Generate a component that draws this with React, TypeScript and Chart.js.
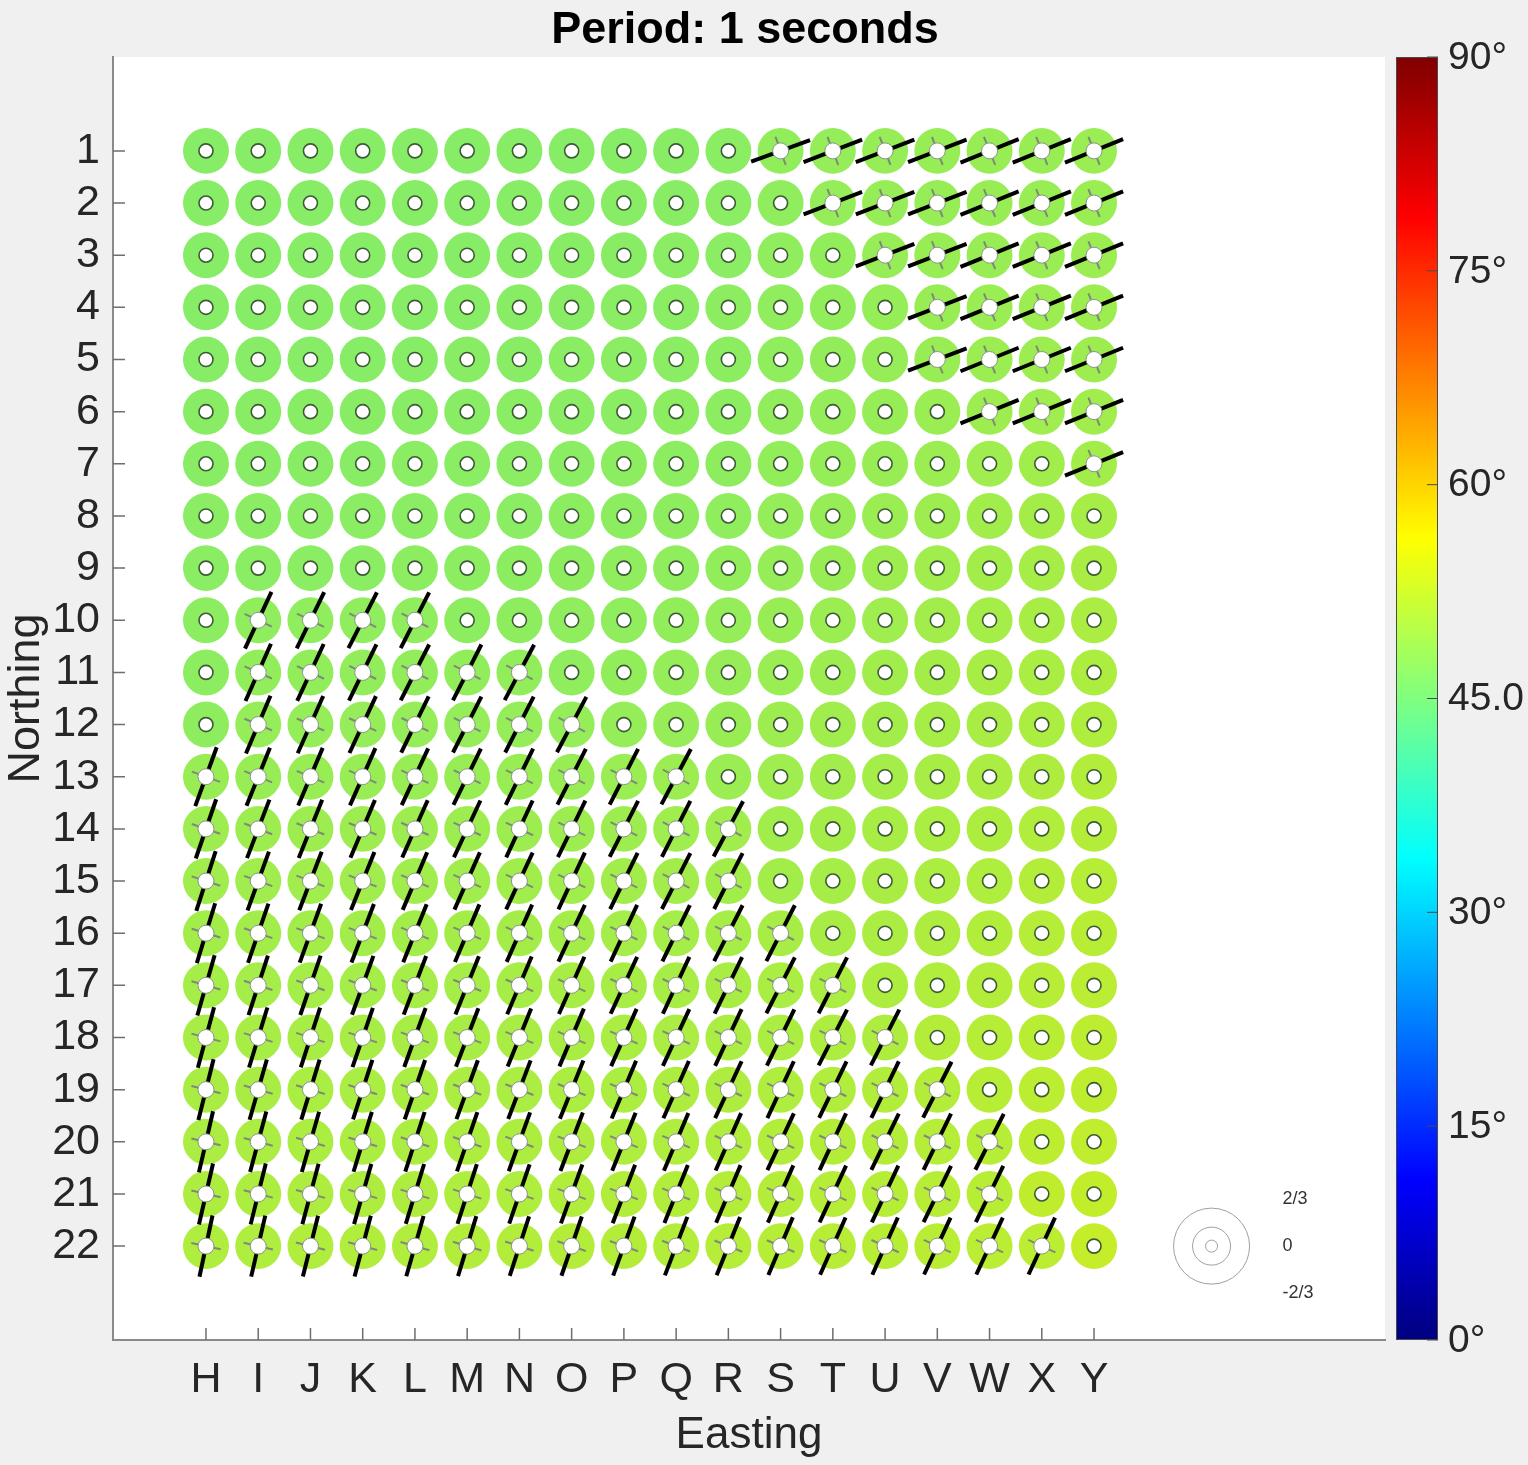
import { useEffect, useRef } from "react";
import { Chart, registerables } from "chart.js";

Chart.register(...registerables);

const titleText = "Period: 1 seconds";
const eastings = ["H", "I", "J", "K", "L", "M", "N", "O", "P", "Q", "R", "S", "T", "U", "V", "W", "X", "Y"];
const northings = ["1", "2", "3", "4", "5", "6", "7", "8", "9", "10", "11", "12", "13", "14", "15", "16", "17", "18", "19", "20", "21", "22"];
const colorbarTicks = [0, 15, 30, 45, 60, 75, 90];
const colorbarLabels = ["0°", "15°", "30°", "45.0", "60°", "75°", "90°"];
const legendLabels = ["2/3", "0", "-2/3"];
const xTitle = "Easting";
const yTitle = "Northing";

// colour value (degrees) per cell, rows 1..22, columns H..Y
const values: number[][] = [
  [46.6, 46.6, 46.6, 46.6, 46.6, 46.6, 46.6, 46.6, 46.6, 46.7, 46.8, 47.6, 47.8, 48.0, 48.1, 48.2, 48.3, 48.4],
  [46.6, 46.6, 46.6, 46.6, 46.6, 46.6, 46.6, 46.6, 46.7, 46.7, 46.8, 47.4, 47.8, 48.0, 48.1, 48.2, 48.3, 48.4],
  [46.6, 46.6, 46.6, 46.6, 46.6, 46.6, 46.6, 46.7, 46.7, 46.8, 46.9, 47.3, 47.6, 48.0, 48.2, 48.3, 48.4, 48.5],
  [46.6, 46.6, 46.6, 46.6, 46.6, 46.6, 46.7, 46.7, 46.8, 46.8, 47.0, 47.3, 47.6, 47.9, 48.2, 48.4, 48.5, 48.6],
  [46.6, 46.6, 46.6, 46.6, 46.6, 46.7, 46.7, 46.8, 46.8, 46.9, 47.0, 47.4, 47.7, 48.0, 48.3, 48.5, 48.6, 48.7],
  [46.7, 46.7, 46.7, 46.7, 46.7, 46.7, 46.8, 46.8, 46.9, 47.0, 47.1, 47.5, 47.8, 48.1, 48.4, 48.6, 48.8, 48.9],
  [46.7, 46.7, 46.7, 46.7, 46.8, 46.8, 46.8, 46.9, 47.0, 47.1, 47.2, 47.6, 47.9, 48.2, 48.5, 48.8, 49.0, 49.2],
  [46.8, 46.8, 46.8, 46.8, 46.8, 46.9, 46.9, 47.0, 47.1, 47.2, 47.4, 47.8, 48.1, 48.4, 48.7, 49.0, 49.3, 49.5],
  [46.9, 46.9, 46.9, 46.9, 47.0, 47.0, 47.1, 47.2, 47.3, 47.4, 47.6, 48.0, 48.3, 48.6, 48.9, 49.2, 49.5, 49.8],
  [47.0, 47.3, 47.3, 47.3, 47.3, 47.1, 47.2, 47.3, 47.4, 47.6, 47.8, 48.2, 48.5, 48.8, 49.1, 49.4, 49.7, 50.0],
  [47.1, 47.6, 47.6, 47.6, 47.6, 47.6, 47.6, 47.4, 47.6, 47.8, 48.0, 48.4, 48.7, 49.0, 49.3, 49.6, 49.9, 50.2],
  [47.2, 47.8, 47.8, 47.8, 47.8, 47.8, 47.8, 47.8, 47.8, 48.0, 48.2, 48.6, 48.9, 49.2, 49.5, 49.8, 50.1, 50.4],
  [48.3, 48.3, 48.3, 48.3, 48.3, 48.3, 48.3, 48.3, 48.4, 48.5, 48.4, 48.8, 49.1, 49.4, 49.7, 50.0, 50.3, 50.6],
  [48.6, 48.6, 48.6, 48.6, 48.6, 48.6, 48.6, 48.7, 48.7, 48.8, 48.9, 49.0, 49.3, 49.6, 49.9, 50.2, 50.5, 50.8],
  [48.9, 48.9, 48.9, 48.9, 48.9, 48.9, 49.0, 49.0, 49.1, 49.1, 49.2, 49.2, 49.5, 49.8, 50.1, 50.4, 50.7, 51.0],
  [49.2, 49.2, 49.2, 49.2, 49.2, 49.3, 49.3, 49.3, 49.4, 49.4, 49.5, 49.6, 49.7, 50.0, 50.3, 50.6, 50.9, 51.2],
  [49.4, 49.4, 49.4, 49.4, 49.5, 49.5, 49.5, 49.6, 49.6, 49.7, 49.8, 49.9, 50.0, 50.2, 50.5, 50.8, 51.1, 51.4],
  [49.6, 49.6, 49.6, 49.7, 49.7, 49.7, 49.8, 49.8, 49.9, 50.0, 50.0, 50.1, 50.2, 50.3, 50.7, 51.0, 51.3, 51.6],
  [49.8, 49.8, 49.9, 49.9, 49.9, 50.0, 50.0, 50.1, 50.1, 50.2, 50.3, 50.4, 50.5, 50.6, 50.7, 51.2, 51.5, 51.8],
  [50.0, 50.0, 50.1, 50.1, 50.1, 50.2, 50.2, 50.3, 50.4, 50.4, 50.5, 50.6, 50.7, 50.8, 50.9, 51.0, 51.7, 52.0],
  [50.2, 50.2, 50.3, 50.3, 50.3, 50.4, 50.4, 50.5, 50.6, 50.6, 50.7, 50.8, 50.9, 51.0, 51.1, 51.2, 51.9, 52.2],
  [50.4, 50.4, 50.5, 50.5, 50.5, 50.6, 50.6, 50.7, 50.8, 50.8, 50.9, 51.0, 51.1, 51.2, 51.3, 51.4, 51.5, 52.4],
];

const N = null;
// tick direction (degrees from horizontal, counter-clockwise); null = no tick
const tickAngles: (number | null)[][] = [
  [N, N, N, N, N, N, N, N, N, N, N, 20, 21, 21, 21, 22, 22, 22],
  [N, N, N, N, N, N, N, N, N, N, N, N, 21, 21, 21, 22, 22, 22],
  [N, N, N, N, N, N, N, N, N, N, N, N, N, 21, 21, 22, 22, 22],
  [N, N, N, N, N, N, N, N, N, N, N, N, N, N, 21, 22, 22, 22],
  [N, N, N, N, N, N, N, N, N, N, N, N, N, N, 21, 22, 22, 22],
  [N, N, N, N, N, N, N, N, N, N, N, N, N, N, N, 22, 22, 22],
  [N, N, N, N, N, N, N, N, N, N, N, N, N, N, N, N, N, 22],
  [N, N, N, N, N, N, N, N, N, N, N, N, N, N, N, N, N, N],
  [N, N, N, N, N, N, N, N, N, N, N, N, N, N, N, N, N, N],
  [N, 65, 64, 63, 63, N, N, N, N, N, N, N, N, N, N, N, N, N],
  [N, 66, 65, 64, 63, 63, 62, N, N, N, N, N, N, N, N, N, N, N],
  [N, 67, 66, 65, 64, 63, 63, 62, N, N, N, N, N, N, N, N, N, N],
  [70, 68, 67, 66, 65, 64, 64, 63, 63, 62, N, N, N, N, N, N, N, N],
  [71, 69, 68, 67, 66, 65, 65, 64, 63, 63, 62, N, N, N, N, N, N, N],
  [72, 70, 69, 68, 67, 66, 65, 65, 64, 63, 63, N, N, N, N, N, N, N],
  [73, 71, 70, 69, 68, 67, 66, 65, 65, 64, 63, 63, N, N, N, N, N, N],
  [74, 72, 71, 70, 69, 68, 67, 66, 65, 65, 64, 63, 63, N, N, N, N, N],
  [75, 73, 72, 71, 70, 69, 68, 67, 66, 65, 65, 64, 63, 63, N, N, N, N],
  [76, 74, 73, 72, 71, 70, 69, 68, 67, 66, 65, 65, 64, 64, 63, N, N, N],
  [77, 75, 74, 73, 72, 71, 70, 69, 68, 67, 66, 65, 65, 64, 64, 63, N, N],
  [77, 76, 75, 74, 73, 72, 71, 70, 69, 68, 67, 66, 65, 65, 64, 64, N, N],
  [78, 77, 76, 75, 74, 73, 72, 71, 70, 69, 68, 67, 66, 66, 65, 65, 65, N],
];

const LEGEND_X = 20.25;
const LEGEND_Y = 22;

// style constants (data units / px)
const DISK_R = 0.44;
const TICK_HALF = 0.6;
const FONT = "'Liberation Sans', Arial, Helvetica, sans-serif";

function jet(t: number): [number, number, number] {
  const c = (x: number) => Math.max(0, Math.min(1, x));
  return [
    c(Math.min(4 * t - 1.5, -4 * t + 4.5)),
    c(Math.min(4 * t - 0.5, -4 * t + 3.5)),
    c(Math.min(4 * t + 0.5, -4 * t + 2.5)),
  ];
}
function jetCss(t: number, k = 1) {
  const [r, g, b] = jet(t);
  return `rgb(${Math.round(r * 255 * k)},${Math.round(g * 255 * k)},${Math.round(b * 255 * k)})`;
}

const glyphPlugin = {
  id: "glyphs",
  beforeDraw(chart: any) {
    const { ctx, chartArea: a, width, height } = chart;
    ctx.save();
    ctx.fillStyle = "#f0f0f0";
    ctx.fillRect(0, 0, width, height);
    ctx.fillStyle = "#ffffff";
    ctx.fillRect(a.left, a.top, a.right - a.left, a.bottom - a.top);
    ctx.restore();
  },
  afterDatasetsDraw(chart: any) {
    const { ctx } = chart;
    const xs = chart.scales.x;
    const meta = chart.getDatasetMeta(0);
    const raw = chart.data.datasets[0].data as any[];
    const unit = Math.abs(xs.getPixelForValue(1) - xs.getPixelForValue(0));
    const rDisk = DISK_R * unit;
    const half = TICK_HALF * unit;
    ctx.save();
    meta.data.forEach((el: any, i: number) => {
      const d = raw[i];
      ctx.beginPath();
      ctx.arc(el.x, el.y, rDisk, 0, Math.PI * 2);
      ctx.fillStyle = jetCss(d.v / 90, 0.93);
      ctx.fill();
    });
    meta.data.forEach((el: any, i: number) => {
      const d = raw[i];
      const cx = el.x, cy = el.y;
      if (d.a !== null) {
        const ang = (d.a * Math.PI) / 180;
        const ux = Math.cos(ang), uy = -Math.sin(ang);
        const px = -uy, py = ux;
        ctx.strokeStyle = "#7d8a78";
        ctx.lineWidth = 2;
        ctx.beginPath();
        ctx.moveTo(cx - px * 15, cy - py * 15);
        ctx.lineTo(cx + px * 15, cy + py * 15);
        ctx.moveTo(cx - ux * 15, cy - uy * 15);
        ctx.lineTo(cx + ux * 15, cy + uy * 15);
        ctx.stroke();
        ctx.strokeStyle = "#000000";
        ctx.lineWidth = 4;
        ctx.lineCap = "butt";
        ctx.beginPath();
        ctx.moveTo(cx - ux * half, cy - uy * half);
        ctx.lineTo(cx + ux * half, cy + uy * half);
        ctx.stroke();
        ctx.beginPath();
        ctx.arc(cx, cy, 8, 0, Math.PI * 2);
        ctx.fillStyle = "#ffffff";
        ctx.fill();
        ctx.strokeStyle = "#8a9488";
        ctx.lineWidth = 1;
        ctx.stroke();
      } else {
        ctx.beginPath();
        ctx.arc(cx, cy, 7, 0, Math.PI * 2);
        ctx.fillStyle = "#ffffff";
        ctx.fill();
        ctx.strokeStyle = "#3d5a35";
        ctx.lineWidth = 1.6;
        ctx.stroke();
      }
    });
    ctx.restore();
  },
  afterDraw(chart: any) {
    const { ctx, chartArea: a } = chart;
    const xs = chart.scales.x;
    const ys = chart.scales.y;
    ctx.save();
    ctx.strokeStyle = "#6e6e6e";
    ctx.lineWidth = 1.5;
    ctx.beginPath();
    ys.ticks.forEach((t: any) => {
      const y = ys.getPixelForValue(t.value);
      ctx.moveTo(a.left, y);
      ctx.lineTo(a.left + 12, y);
    });
    xs.ticks.forEach((t: any) => {
      const x = xs.getPixelForValue(t.value);
      ctx.moveTo(x, a.bottom);
      ctx.lineTo(x, a.bottom - 12);
    });
    ctx.stroke();

    ctx.fillStyle = "#000000";
    ctx.font = `bold 45px ${FONT}`;
    ctx.textAlign = "center";
    ctx.textBaseline = "middle";
    ctx.fillText(titleText, (a.left + a.right) / 2 - 4, 31);

    const lx = xs.getPixelForValue(LEGEND_X);
    const ly = ys.getPixelForValue(LEGEND_Y);
    ctx.strokeStyle = "#a0a0a0";
    ctx.lineWidth = 1;
    [38, 19, 6].forEach((r) => {
      ctx.beginPath();
      ctx.arc(lx, ly, r, 0, Math.PI * 2);
      ctx.stroke();
    });
    ctx.fillStyle = "#333333";
    ctx.font = `18px ${FONT}`;
    ctx.textAlign = "left";
    ctx.textBaseline = "middle";
    legendLabels.forEach((s, i) => {
      ctx.fillText(s, lx + 71, ly + (i - 1) * 47);
    });

    const cbL = a.right + 11;
    const cbW = 42;
    const top = a.top, bot = a.bottom;
    const grad = ctx.createLinearGradient(0, bot, 0, top);
    for (let i = 0; i <= 64; i++) grad.addColorStop(i / 64, jetCss(i / 64));
    ctx.fillStyle = grad;
    ctx.fillRect(cbL, top, cbW, bot - top);
    ctx.strokeStyle = "#4a4a4a";
    ctx.lineWidth = 1;
    ctx.strokeRect(cbL + 0.5, top + 0.5, cbW - 1, bot - top - 1);
    ctx.font = `39px ${FONT}`;
    ctx.fillStyle = "#262626";
    ctx.textAlign = "left";
    ctx.textBaseline = "middle";
    colorbarTicks.forEach((v, i) => {
      const y = bot - (v / 90) * (bot - top);
      ctx.beginPath();
      ctx.moveTo(cbL + cbW - 11, y);
      ctx.lineTo(cbL + cbW, y);
      ctx.stroke();
      ctx.fillText(colorbarLabels[i], cbL + cbW + 10, y + 1);
    });
    ctx.restore();
  },
};

export default function App() {
  const ref = useRef<HTMLCanvasElement>(null);
  useEffect(() => {
    document.body.style.margin = "0";
    document.body.style.background = "#f0f0f0";
    const pts: any[] = [];
    values.forEach((row, r) =>
      row.forEach((v, c) => pts.push({ x: c + 1, y: r + 1, v, a: tickAngles[r][c] }))
    );
    const chart = new Chart(ref.current as HTMLCanvasElement, {
      type: "scatter",
      data: {
        datasets: [{ data: pts, pointRadius: 0, pointHoverRadius: 0, showLine: false }],
      },
      plugins: [glyphPlugin],
      options: {
        animation: false,
        responsive: false,
        events: [],
        layout: { padding: { left: 0, top: 57, right: 143, bottom: 0 } },
        plugins: { legend: { display: false }, tooltip: { enabled: false }, title: { display: false } },
        scales: {
          x: {
            type: "linear",
            min: -0.78,
            max: 23.57,
            afterBuildTicks: (s: any) => {
              s.ticks = eastings.map((_, i) => ({ value: i + 1 }));
            },
            afterFit: (s: any) => {
              s.height = 125;
            },
            ticks: {
              autoSkip: false,
              maxRotation: 0,
              padding: 14,
              color: "#262626",
              font: { family: FONT, size: 43 },
              callback: (v: any) => eastings[Math.round(v) - 1] ?? "",
            },
            grid: { display: true, drawOnChartArea: false, drawTicks: false },
            border: { display: true, color: "#8a8a8a", width: 2 },
            title: {
              display: true,
              text: xTitle,
              color: "#262626",
              font: { family: FONT, size: 44 },
              padding: { top: 0, bottom: 3 },
            },
          },
          y: {
            type: "linear",
            reverse: true,
            min: -0.8,
            max: 23.8,
            afterBuildTicks: (s: any) => {
              s.ticks = northings.map((_, i) => ({ value: i + 1 }));
            },
            afterFit: (s: any) => {
              s.width = 113;
            },
            ticks: {
              autoSkip: false,
              padding: 13,
              color: "#262626",
              font: { family: FONT, size: 43 },
              callback: (v: any) => northings[Math.round(v) - 1] ?? "",
            },
            grid: { display: true, drawOnChartArea: false, drawTicks: false },
            border: { display: true, color: "#8a8a8a", width: 2 },
            title: {
              display: true,
              text: yTitle,
              color: "#262626",
              font: { family: FONT, size: 45 },
              padding: { top: 0, bottom: 0 },
            },
          },
        },
      } as any,
    });
    return () => chart.destroy();
  }, []);
  return (
    <div style={{ width: 1528, height: 1465, background: "#f0f0f0" }}>
      <canvas ref={ref} width={1528} height={1465} style={{ display: "block" }} />
    </div>
  );
}
